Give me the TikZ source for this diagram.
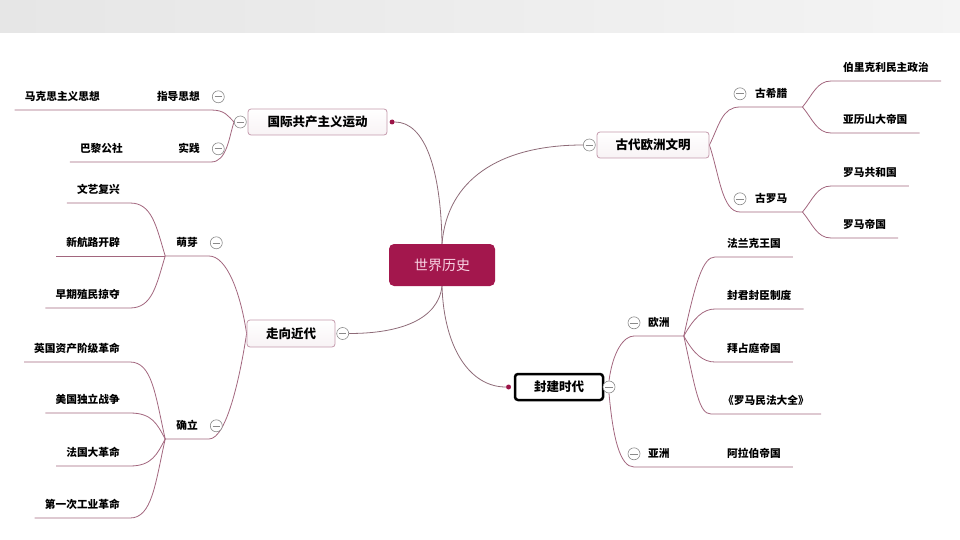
\documentclass[tikz,border=0pt]{standalone}
\usepackage{fontspec}
\setmainfont{Noto Sans CJK SC}
\usepackage{tikz}
\usetikzlibrary{positioning,backgrounds}
\usepackage{xcolor}
\definecolor{rootred}{HTML}{A3174D}
\definecolor{roottext}{HTML}{F8D3E3}
\definecolor{topicborder}{HTML}{C49AAC}
\definecolor{mainline}{HTML}{8E6B78}
\definecolor{leafcol}{HTML}{A2667E}
\definecolor{jointred}{HTML}{9B1447}
\definecolor{foldgray}{HTML}{8A8A8A}
\definecolor{bandgray}{HTML}{E6E6E6}
\newcommand\leaffont{\fontsize{10.7pt}{12pt}\selectfont\bfseries}

\begin{document}
\begin{tikzpicture}[
  x=1pt, y=-1pt,
  topic/.style={
    draw=topicborder,
    top color=white,
    bottom color=topicborder!12,
    rounded corners=3pt,
    line width=0.8pt,
    minimum height=26pt,
    inner sep=2pt,
    font=\fontsize{12.5pt}{14pt}\selectfont\bfseries
  },
  leafL/.style={
    anchor=south east,
    inner xsep=10pt,
    inner ysep=8pt,
    text height=9pt,
    text depth=1pt,
    font=\leaffont
  },
  leafR/.style={leafL, anchor=south west, inner xsep=12pt},
  subL/.style={leafL, inner xsep=11pt},
  subR/.style={leafL, anchor=south west, inner xsep=15pt},
  fold/.style={
    circle,
    draw=foldgray,
    fill=white,
    line width=0.6pt,
    minimum size=12pt,
    inner sep=0pt,
    path picture={\draw[foldgray, line width=0.6pt]
      ([xshift=-3.6pt]path picture bounding box.center) --
      ([xshift=3.6pt]path picture bounding box.center);}
  },
  joint/.style={circle, fill=jointred, inner sep=0pt, minimum size=5pt},
  trunk/.style={draw=mainline, line width=0.8pt},
  twig/.style={draw=leafcol, line width=0.8pt}
]
  \useasboundingbox (0,0) rectangle (960,540);

  % Central topic
  \node[fill=rootred, rounded corners=5pt, minimum width=106pt, minimum height=42pt,
        text=roottext, font=\fontsize{14pt}{16pt}\selectfont] (root) at (442,265) {世界历史};

  % Main topics
  \node[topic, minimum width=139pt] (gjgc) at (317.5,122) {国际共产主义运动};
  \node[topic, minimum width=112pt] (gdom) at (653,145) {古代欧洲文明};
  \node[topic, minimum width=88pt, minimum height=27pt] (zxjd) at (291,333.5) {走向近代};
  \node[topic, draw=black, line width=2.5pt, top color=white, bottom color=white, minimum width=88pt] (fjsd) at (559,387) {封建时代};

  \node[joint, right=2pt of gjgc] (gjdot) {};
  \node[joint, left=2.5pt of fjsd] (fjdot) {};
  \node[fold, left=1pt of gjgc] (gjfold) {};
  \node[fold, left=1pt of gdom] (gdfold) {};
  \node[fold, right=1pt of zxjd] (zxfold) {};
  \node[fold] (fjfold) at (609,387) {};

  % 国际共产主义运动
  \node[subL] (zdsx) at (211,110) {指导思想};
  \node[fold, right=1pt of zdsx] {};
  \node[leafL] (mkszy) at (110,110) {马克思主义思想};
  \node[subL] (sj) at (211,162) {实践};
  \node[fold, right=1pt of sj] {};
  \node[leafL] (blgs) at (133,162) {巴黎公社};

  % 走向近代
  \node[subL] (my) at (209,256) {萌芽};
  \node[fold, right=1pt of my] {};
  \node[leafL] (wyfx) at (130,203) {文艺复兴};
  \node[leafL] (xhlkp) at (130,256) {新航路开辟};
  \node[leafL] (zqzm) at (130,308) {早期殖民掠夺};
  \node[subL] (ql) at (209,439) {确立};
  \node[fold, right=1pt of ql] {};
  \node[leafL] (ygzc) at (130,362) {英国资产阶级革命};
  \node[leafL] (mgdl) at (130,413) {美国独立战争};
  \node[leafL] (fgdg) at (130,466) {法国大革命};
  \node[leafL] (dycg) at (130,518) {第一次工业革命};

  % 古代欧洲文明
  \node[subR] (gxl) at (740,107) {古希腊};
  \node[fold] at (gxl.west) {};
  \node[leafR] (blkl) at (831,81) {伯里克利民主政治};
  \node[leafR] (ylsd) at (831,133) {亚历山大帝国};
  \node[subR] (glm) at (740,212) {古罗马};
  \node[fold] at (glm.west) {};
  \node[leafR] (lmgh) at (831,186) {罗马共和国};
  \node[leafR] (lmdg) at (831,238) {罗马帝国};

  % 封建时代
  \node[subR, inner xsep=14pt] (oz) at (634,336) {欧洲};
  \node[fold] at (oz.west) {};
  \node[leafR] (flkw) at (715,257) {法兰克王国};
  \node[leafR] (fjfc) at (715,309) {封君封臣制度};
  \node[leafR] (bztd) at (715,362) {拜占庭帝国};
  \node[leafR] (lmmf) at (711,414) {《罗马民法大全》};
  \node[subR, inner xsep=14pt] (yz) at (634,467) {亚洲};
  \node[fold] at (yz.west) {};
  \node[leafR] (albd) at (715,467) {阿拉伯帝国};

  \begin{scope}[on background layer]
    \fill[left color=bandgray, right color=bandgray!45] (0,0) rectangle (960,33);

    % Trunks from the centre
    \draw[trunk] (gjdot) .. controls +(33,0) and +(-1,-74) .. (root.north);
    \draw[trunk] (root.north) .. controls +(5,-63) and +(-85,0) .. (gdfold.west);
    \draw[trunk] (root.south) .. controls +(-4,33) and +(52,0) .. (zxfold.east);
    \draw[trunk] (root.south) .. controls +(2,63) and +(-38,0) .. (fjdot);

    % Left branches
    \draw[twig] (mkszy.south west) -- (zdsx.south east) .. controls +(14,0) and +(-6,-6) .. (gjfold.west);
    \draw[twig] (blgs.south west) -- (sj.south east) .. controls +(16,0) and +(-5,15) .. (gjfold.west);

    \draw[twig] (my.south west) -- (my.south east) .. controls +(18,0) and +(-6,-40) .. (zxjd.west);
    \draw[twig] (ql.south west) -- (ql.south east) .. controls +(18,0) and +(-6,40) .. (zxjd.west);
    \draw[twig] (wyfx.south west) -- (wyfx.south east) .. controls +(22,0) and +(-9,-30) .. (my.south west);
    \draw[twig] (xhlkp.south west) -- (my.south west);
    \draw[twig] (zqzm.south west) -- (zqzm.south east) .. controls +(22,0) and +(-9,30) .. (my.south west);
    \draw[twig] (ygzc.south west) -- (ygzc.south east) .. controls +(22,0) and +(-10,-45) .. (ql.south west);
    \draw[twig] (mgdl.south west) -- (mgdl.south east) .. controls +(22,0) and +(-8,-15) .. (ql.south west);
    \draw[twig] (fgdg.south west) -- (fgdg.south east) .. controls +(22,0) and +(-8,15) .. (ql.south west);
    \draw[twig] (dycg.south west) -- (dycg.south east) .. controls +(22,0) and +(-10,45) .. (ql.south west);

    % Right branches
    \draw[twig] (gdom.east) .. controls +(10,-20) and +(-18,0) .. (gxl.south west) -- (gxl.south east);
    \draw[twig] (gdom.east) .. controls +(10,30) and +(-18,0) .. (glm.south west) -- (glm.south east);
    \draw[twig] (gxl.south east) .. controls +(10,-12) and +(-14,0) .. (blkl.south west) -- (blkl.south east);
    \draw[twig] (gxl.south east) .. controls +(10,12) and +(-14,0) .. (ylsd.south west) -- (ylsd.south east);
    \draw[twig] (glm.south east) .. controls +(10,-12) and +(-14,0) .. (lmgh.south west) -- (lmgh.south east);
    \draw[twig] (glm.south east) .. controls +(10,12) and +(-14,0) .. (lmdg.south west) -- (lmdg.south east);

    \draw[twig] (fjfold.north) .. controls +(4,-30) and +(-10,0) .. (oz.south west) -- (oz.south east);
    \draw[twig] (fjfold.south) .. controls +(4,45) and +(-14,0) .. (yz.south west) -- (albd.south east);
    \draw[twig] (oz.south east) .. controls +(12,-55) and +(-12,0) .. (flkw.south west) -- (flkw.south east);
    \draw[twig] (oz.south east) .. controls +(10,-18) and +(-12,0) .. (fjfc.south west) -- (fjfc.south east);
    \draw[twig] (oz.south east) .. controls +(10,18) and +(-12,0) .. (bztd.south west) -- (bztd.south east);
    \draw[twig] (oz.south east) .. controls +(12,55) and +(-12,0) .. (lmmf.south west) -- (lmmf.south east);
  \end{scope}

\end{tikzpicture}
\end{document}
